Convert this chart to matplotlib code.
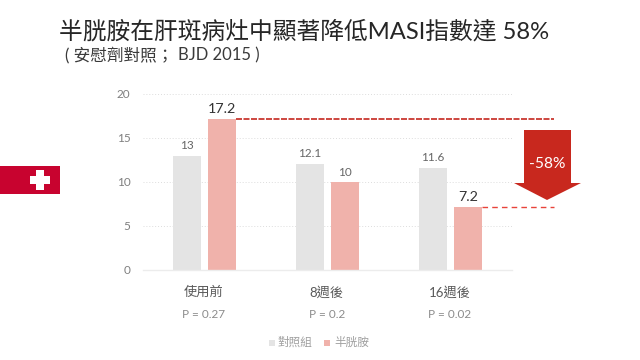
import matplotlib
matplotlib.use('Agg')
import matplotlib.pyplot as plt
from matplotlib.patches import Rectangle, Polygon
import numpy as np

plt.rcParams['font.family'] = ['Lato', 'Noto Sans CJK TC', 'DejaVu Sans']

categories = ['使用前', '8週後', '16週後']
p_values = ['P = 0.27', 'P = 0.2', 'P = 0.02']
control = [13, 12.1, 11.6]
treated = [17.2, 10, 7.2]
control_name = '對照組'
treated_name = '半胱胺'
y_ticks = [0, 5, 10, 15, 20]
drop_label = '-58%'

W, H = 640, 360

# pixel position helper, y measured from the top like in the reference
def px(x, y):
    return x / W, 1 - y / H

fig = plt.figure(figsize=(W / 100, H / 100), dpi=100)
ax = fig.add_axes([143 / W, 1 - 270 / H, 369 / W, 176 / H])

x = np.arange(len(categories))
bar_w = 0.228
off = 0.142
ax.bar(x - off, control, bar_w, color='#e4e4e4', zorder=2)
ax.bar(x + off, treated, bar_w, color='#f0b2ab', zorder=2)

ax.set_xlim(-0.5, 2.5)
ax.set_ylim(0, 20)
ax.set_yticks(y_ticks)
ax.set_xticks([])
ax.tick_params(axis='y', length=0, labelsize=8.5, labelcolor='#7f7f7f', pad=9)
for s in ['top', 'right', 'left']:
    ax.spines[s].set_visible(False)
ax.spines['bottom'].set_color('#ececec')
ax.spines['bottom'].set_linewidth(1)
for t in y_ticks[1:]:
    ax.axhline(t, color='#dddddd', lw=0.7, ls=(0, (1, 2)), zorder=1)

# value labels
for i in x:
    ax.text(i - off, control[i] + 0.55, str(control[i]), ha='center', va='bottom',
            fontsize=8.5, color='#666666')
    ax.text(i + off, treated[i] + 0.4, str(treated[i]), ha='center', va='bottom',
            fontsize=10.3 if treated[i] != 10 else 8.5,
            color='#333333' if treated[i] != 10 else '#666666')

# category and p value rows under the axis
for i in x:
    fx, _ = fig.transFigure.inverted().transform(ax.transData.transform((i, 0)))
    fig.text(fx - 0.001, 1 - 292 / H, categories[i], ha='center', va='center',
             fontsize=9.5, color='#595959')
    fig.text(fx - 0.001, 1 - 315 / H, p_values[i], ha='center', va='center',
             fontsize=8.5, color='#8c8c8c')

# dashed lines from the treated bars out to the arrow
x_end = (554 - 143) / 123 - 0.5
ax.plot([off + bar_w / 2, x_end], [treated[0], treated[0]], color='#c5281f', lw=1.2,
        ls=(0, (3.6, 0.9)), clip_on=False, zorder=3)
ax.plot([2 + off + bar_w / 2, x_end], [treated[2], treated[2]], color='#e8433a', lw=1.0,
        ls=(0, (4, 3)), clip_on=False, zorder=3)

# arrow
arrow = [px(524, 130), px(571, 130), px(571, 183), px(581, 183), px(547, 200),
         px(514, 183), px(524, 183)]
fig.add_artist(Polygon(arrow, closed=True, transform=fig.transFigure,
                       facecolor='#c8281e', edgecolor='none'))
fig.text(*px(547.5, 164), drop_label, ha='center', va='center', fontsize=11.2,
         color='white', zorder=5)

# flag
fig.add_artist(Rectangle(px(0, 194), 60 / W, 28 / H, transform=fig.transFigure,
                         facecolor='#c8032f', edgecolor='none'))
fig.add_artist(Rectangle(px(30, 184), 20 / W, 8 / H, transform=fig.transFigure,
                         facecolor='white', edgecolor='none'))
fig.add_artist(Rectangle(px(36, 190), 8 / W, 20 / H, transform=fig.transFigure,
                         facecolor='white', edgecolor='none'))

# title
fig.text(*px(59, 31), '半胱胺在肝斑病灶中顯著降低MASI指數達 58%', ha='left', va='center',
         fontsize=17.1, color='#262626')
fig.text(*px(65, 55), '( 安慰劑對照；', ha='left', va='center', fontsize=12,
         color='#3a3a3a')
fig.text(*px(178, 55), 'BJD 2015 )', ha='left', va='center', fontsize=12,
         color='#3a3a3a')

# legend
fig.add_artist(Rectangle(px(268.5, 346), 6 / W, 6 / H, transform=fig.transFigure,
                         facecolor='#e4e4e4', edgecolor='none'))
fig.text(*px(278, 342.5), control_name, ha='left', va='center', fontsize=8.4, color='#a0a0a0')
fig.add_artist(Rectangle(px(324, 346), 6 / W, 6 / H, transform=fig.transFigure,
                         facecolor='#f0b2ab', edgecolor='none'))
fig.text(*px(334, 342.5), treated_name, ha='left', va='center', fontsize=8.4, color='#a0a0a0')

fig.savefig('out.png', dpi=100)
